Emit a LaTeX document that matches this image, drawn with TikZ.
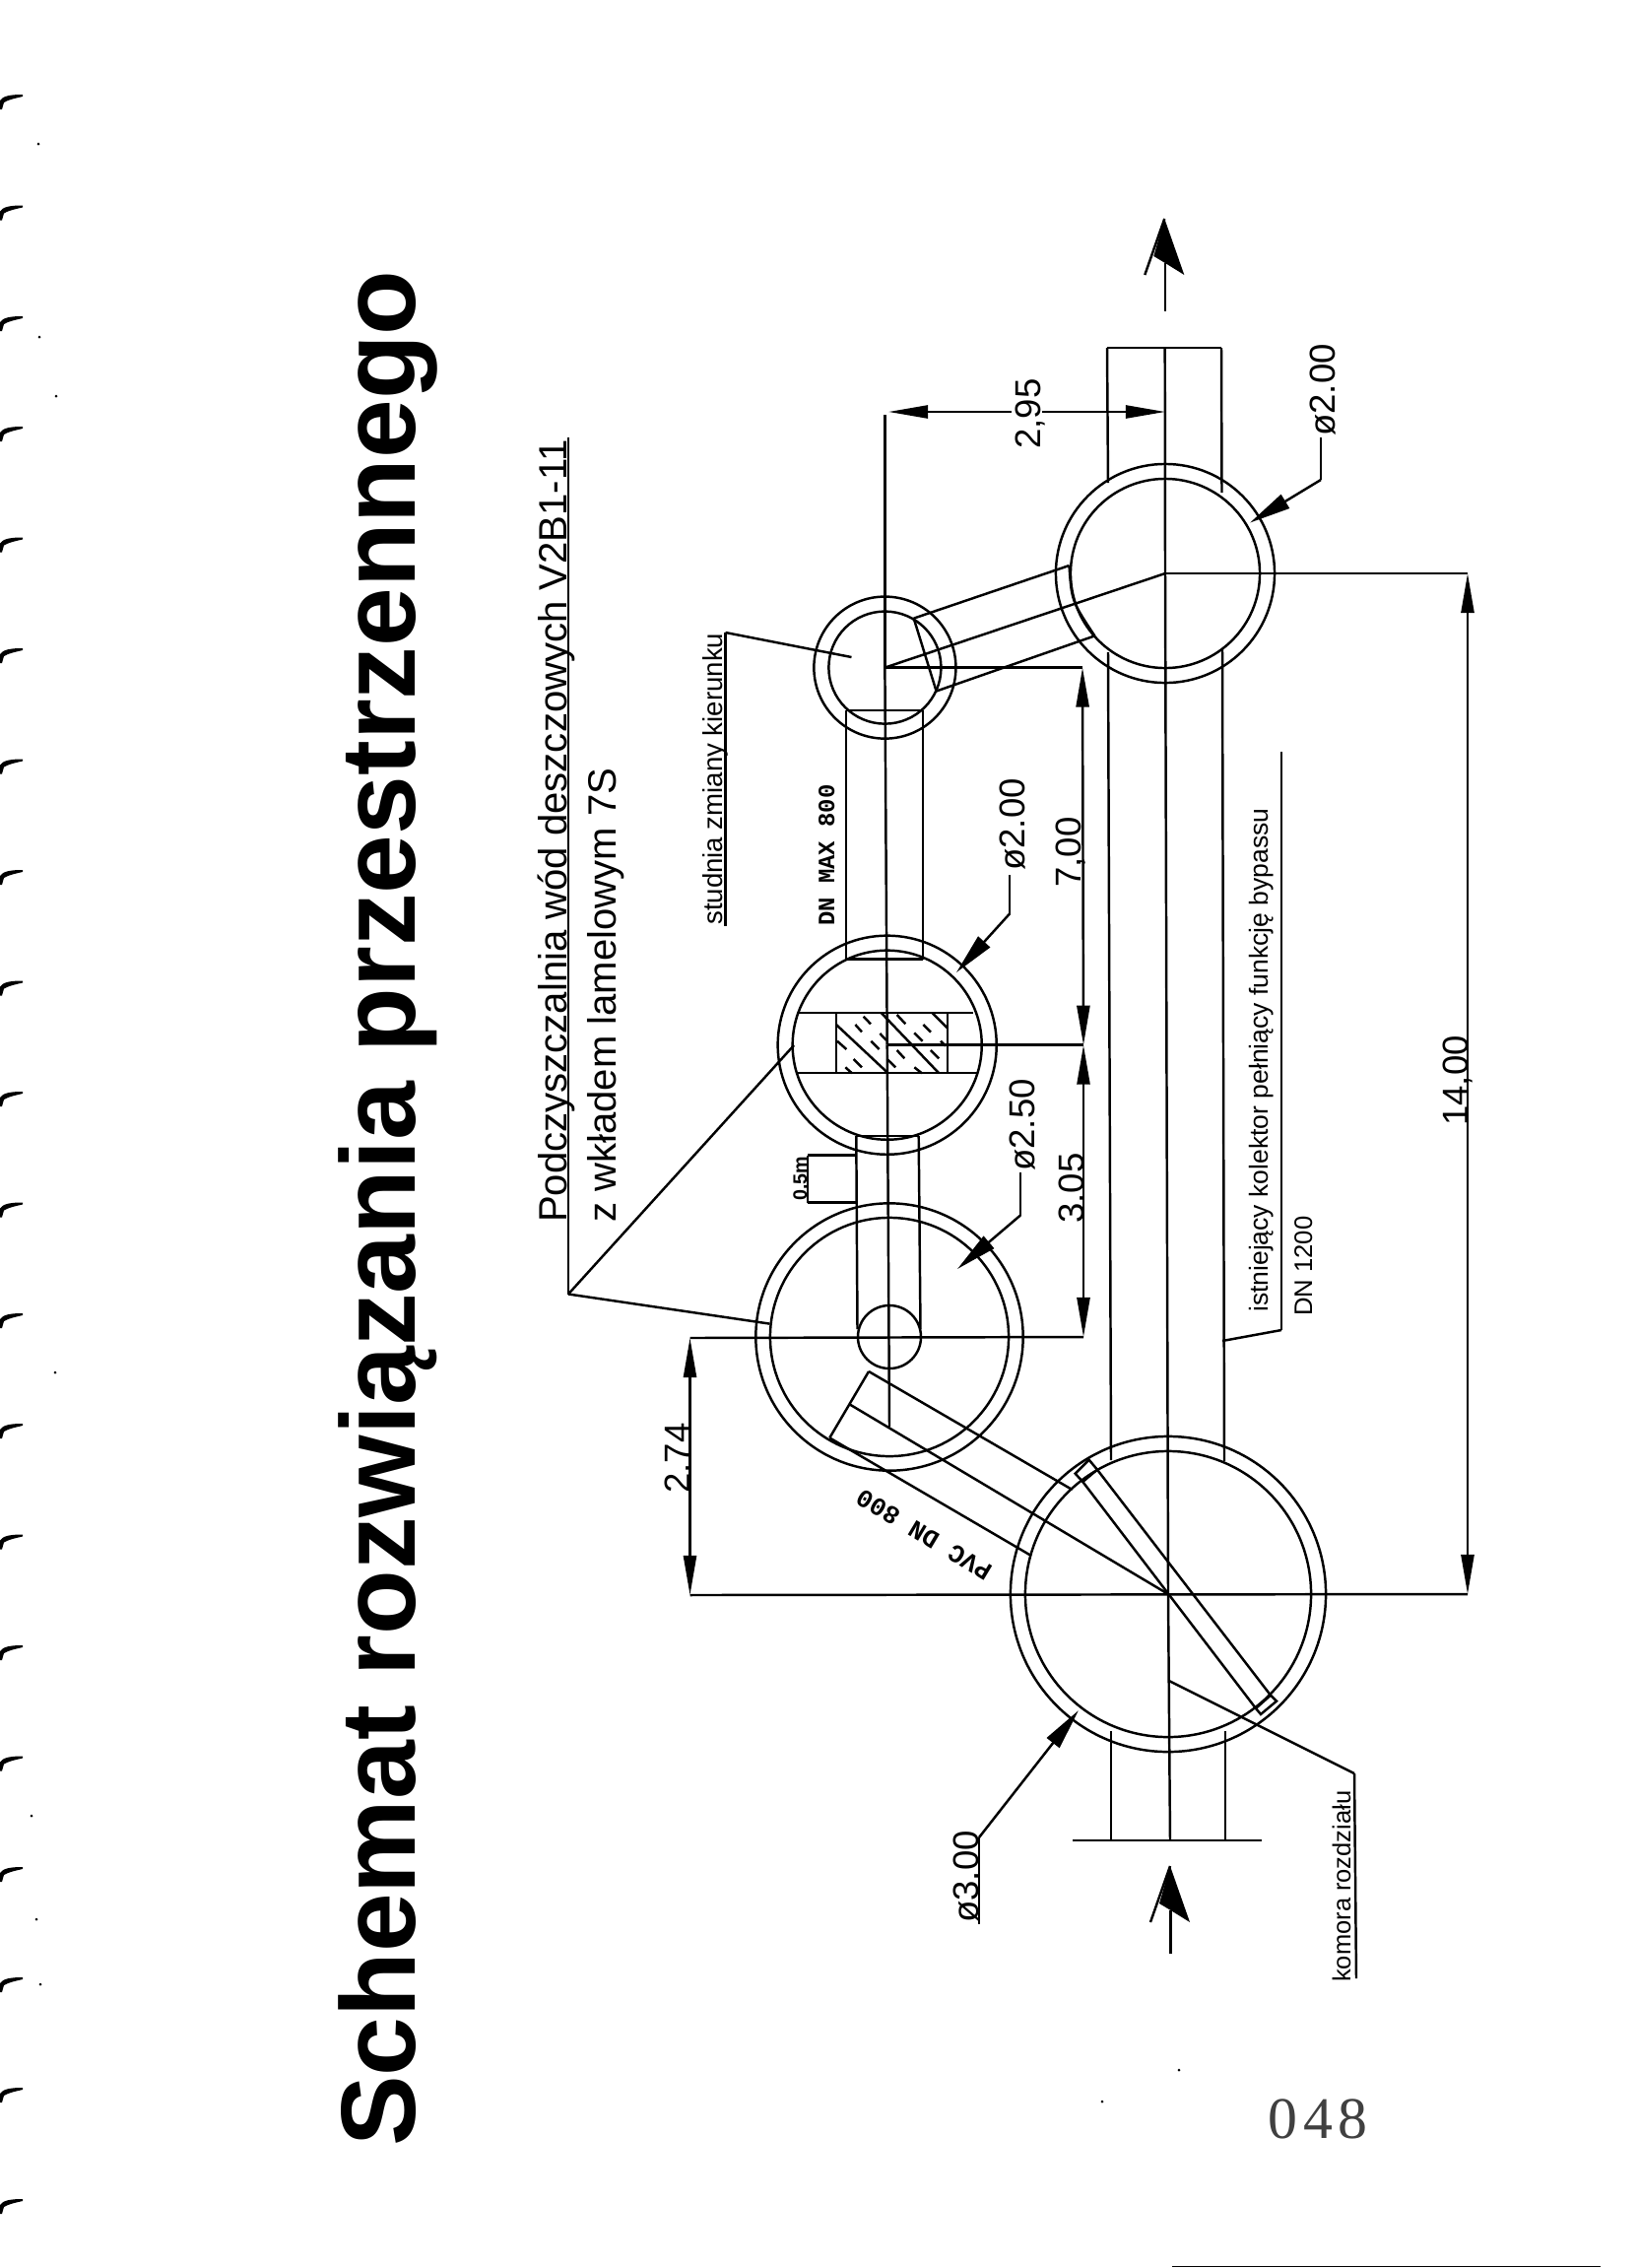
\documentclass[tikz,border=0pt]{standalone}
\usepackage{fontspec}
\setmainfont{Liberation Sans}
\newfontfamily\cadmono{Liberation Mono}
\newfontfamily\stampfont{Liberation Serif}
\usetikzlibrary{arrows.meta}

\tikzset{
	ring/.style={circle,draw,inner sep=0pt,outer sep=0pt},
	lab/.style={rotate=90,anchor=base west,inner sep=0pt},
	dimtxt/.style={lab,font=\fontsize{10.4}{12}\selectfont},
	dimline/.style={{Triangle[length=4mm,width=1.3mm]}-{Triangle[length=4mm,width=1.3mm]}},
	leadarrow/.style={-{Triangle[length=4.2mm,width=1.6mm]}}
}

\begin{document}
\begin{tikzpicture}
		[x=.01cm,y=-.01cm,line width=.7pt]
		\fill[white] (0,0) rectangle (1662,2302);
		\useasboundingbox (0,0) rectangle (1662,2302);
		
		\foreach \name/\x/\y/\d in 
		{k1o/1186/1618/3.2, k1i/1186/1618/2.9, k2o/903/1357/2.712, k2i/903/1357/2.42, 
		k3o/900.7/1060.7/2.22, k3i/900.7/1060.7/1.92, k4o/898.4/677.6/1.44, k4i/898.4/677.6/1.14, 
		k5o/1183/582/2.22, k5i/1183/582/1.92, k6/903/1357/.64}
		\node[ring,minimum size=\d cm] (\name) at (\x,\y) {};
		
		\coordinate (a1) at (1124,353);
		\coordinate (a2) at (1182.7,353);
		\coordinate (a3) at (1240,353);
		\coordinate (a4) at (1125,490);
		\coordinate (a5) at (1240.5,500);
		\coordinate (b1) at (1125,662);
		\coordinate (b2) at (1128,1482);
		\coordinate (b3) at (1241,659);
		\coordinate (b4) at (1243,1483);
		\coordinate (c1) at (1128,1757);
		\coordinate (c2) at (1128,1868);
		\coordinate (c3) at (1244,1757);
		\coordinate (c4) at (1244,1868);
		\coordinate (c5) at (1089,1868);
		\coordinate (c6) at (1281,1868);
		\coordinate (c7) at (1188,1868);
		\coordinate (d1) at (927.7,627.6);
		\coordinate (d2) at (1085.5,574);
		\coordinate (d3) at (950.6,701.5);
		\coordinate (d4) at (1111.4,645.4);
		\coordinate (e1) at (859,721);
		\coordinate (e2) at (937,721);
		\coordinate (e3) at (859,973.5);
		\coordinate (e4) at (937,973.5);
		\coordinate (f1) at (869.3,1153);
		\coordinate (f2) at (932.7,1153);
		\coordinate (f3) at (870.5,1349);
		\coordinate (f4) at (934.5,1349);
		\coordinate (f5) at (903,1448);
		\coordinate (g1) at (810,1028);
		\coordinate (g2) at (988,1028);
		\coordinate (g3) at (809,1089);
		\coordinate (g4) at (993,1089);
		\coordinate (h1) at (849,1028);
		\coordinate (h2) at (849,1089);
		\coordinate (h3) at (962,1028);
		\coordinate (h4) at (962,1089);
		\coordinate (m1) at (882,1392);
		\coordinate (m2) at (1088.6,1512);
		\coordinate (m3) at (842.3,1459.4);
		\coordinate (m4) at (1047,1579);
		\coordinate (m5) at (862.8,1425.5);
		
		\foreach \from/\to in 
		{a1/a3, a1/a4, a3/a5, a2/k5o.center, b1/b2, b3/b4, k5o.center/k1o.center, 
		c1/c2, c3/c4, c5/c6, k1o.center/c7, d1/d2, d3/d4, d1/d3, k4o.center/k5o.center, 
		e1/e2, e3/e4, e1/e3, e2/e4, k4o.center/k3o.center, k3o.center/f5, 
		f1/f2, f1/f3, f2/f4, g1/g2, g3/g4, h1/h2, h3/h4, 
		m1/m2, m3/m4, m1/m3, m5/k1o.center}
		\draw (\from) -- (\to);
		\draw (d2) .. controls (1088,610) .. (d4);
		
		\begin{scope}[shift={(780,980)},scale=.3333]
		\foreach \xa/\ya/\xb/\yb in 
		{207/180/362/325, 345/145/520/328, 500/145/545/190, 290/155/312/178, 265/180/285/202, 
		210/230/238/255, 313/230/338/255, 340/207/360/228, 260/285/285/310, 235/310/255/328, 
		362/285/388/310, 392/150/418/178, 445/205/470/230, 472/180/495/203, 392/258/415/283, 
		495/258/520/283, 445/310/468/328, 525/230/540/245}
		\draw (\xa,\ya) -- (\xb,\yb);
		\end{scope}
		
		\begin{scope}[shift={(1040,1430)},scale=.3333]
		\draw (155,197) -- (197,155) -- (222,185) -- (178,222) -- cycle;
		\draw (705,912) -- (750,872) -- (768,890) -- (720,930) -- cycle;
		\draw (178,222) -- (705,912);
		\draw (222,185) -- (750,872);
		\end{scope}
		
		\foreach \tipx/\tipy/\stem in {1182.3/222/94, 1188/1894/89}
		{
		\begin{scope}[shift={(\tipx,\tipy)}]
		\fill (0,0) -- (20,57) -- (.7,45) -- (-11,38) -- cycle;
		\draw (0,0) -- (-20,57);
		\draw (.7,45) -- (.7,\stem);
		\end{scope}
		}
		
		\coordinate (l1) at (577,444);
		\coordinate (l2) at (577,1313.5);
		\coordinate (l3) at (806,1061);
		\coordinate (l4) at (781.5,1343.6);
		\coordinate (s1) at (736.5,642);
		\coordinate (s2) at (736.5,940);
		\coordinate (s3) at (864.5,667);
		\coordinate (i1) at (1301,763);
		\coordinate (i2) at (1301,1350);
		\coordinate (i3) at (1241,1361);
		\coordinate (r1) at (1187,1706);
		\coordinate (r2) at (1375,1800);
		\coordinate (r3) at (1377,2008);
		\coordinate (w1) at (820,1172.7);
		\coordinate (w2) at (820,1220.7);
		\coordinate (w3) at (869.3,1172.7);
		\coordinate (w4) at (869.3,1220.7);
		\coordinate (x1) at (898.4,421);
		\coordinate (x2) at (1099,677.6);
		\coordinate (x3) at (1100,1060.7);
		\coordinate (x4) at (1100,1357);
		\coordinate (x5) at (1490,582);
		\coordinate (x6) at (1490,1618);
		\coordinate (x7) at (700.5,1358);
		\coordinate (x8) at (700.5,1619);
		
		\foreach \from/\to in 
		{l1/l2, l2/l3, l2/l4, s1/s2, s1/s3, i1/i2, i2/i3, r1/r2, r2/r3, w1/w2, w1/w3, w2/w4, 
		x1/k4o.center, k4o.center/x2, k3o.center/x3, x7/x4, x8/x6, k5o.center/x5}
		\draw (\from) -- (\to);
		
		\draw[dimline] (x2) -- (x3);
		\draw[dimline] (x3) -- (x4);
		\draw[dimline] (x5) -- (x6);
		\draw[dimline] (x7) -- (x8);
		\draw[{Triangle[length=4mm,width=1.3mm]}-] (902,418) -- (1027,418);
		\draw[-{Triangle[length=4mm,width=1.3mm]}] (1058,418) -- (1183,418);
		
		\coordinate (q1) at (1025,888);
		\coordinate (q2) at (1025,927.5);
		\coordinate (q3) at (971,987);
		\coordinate (q4) at (1341,444);
		\coordinate (q5) at (1341,487);
		\coordinate (q6) at (1269,530.6);
		\coordinate (q7) at (1036,1190);
		\coordinate (q8) at (1036,1233.5);
		\coordinate (q9) at (972,1288);
		\coordinate (q10) at (994,1953);
		\coordinate (q11) at (994,1865);
		\coordinate (q12) at (1095,1736);
		\foreach \from/\to in 
		{q1/q2, q4/q5, q7/q8, q10/q11}
		\draw (\from) -- (\to);
		\foreach \from/\to in 
		{q2/q3, q5/q6, q8/q9, q11/q12}
		\draw[leadarrow] (\from) -- (\to);
		
		\node[lab,font=\bfseries\fontsize{30.55}{36}\selectfont] (title) at (421,2180) {Schemat rozwiązania przestrzennego};
		\node[lab,font=\fontsize{11.4}{14}\selectfont] (plant1) at (575,1242) {Podczyszczalnia wód deszczowych V2B1-11};
		\node[lab,font=\fontsize{11.4}{14}\selectfont] (plant2) at (625,1242) {z wkładem lamelowym 7S};
		\node[lab,font=\fontsize{7.85}{9}\selectfont] (well) at (733,940) {studnia zmiany kierunku};
		\node[lab,font=\fontsize{7.54}{9}\selectfont] (bypass) at (1287,1333) {istniejący kolektor pełniący funkcję bypassu};
		\node[lab,font=\fontsize{7.3}{9}\selectfont] (dn1200) at (1332,1337) {DN 1200};
		\node[lab,font=\fontsize{7.25}{9}\selectfont] (chamber) at (1371,2013) {komora rozdziału};
		\node[lab,font=\cadmono\bfseries\fontsize{6.8}{8}\selectfont] (dnmax) at (847,941) {DN MAX 800};
		\node[inner sep=0pt,rotate=149,font=\cadmono\bfseries\fontsize{7.35}{9}\selectfont] (pvc) at (938,1558) {PVC DN 800};
		\node[lab,font=\bfseries\fontsize{5.6}{7}\selectfont] (half) at (819,1220) {0.5m};
		
		\node[dimtxt] (d295) at (1056,457) {2,95};
		\node[dimtxt] (d700) at (1097,902) {7,00};
		\node[dimtxt] (d305) at (1100,1243) {3.05};
		\node[dimtxt] (d1400) at (1490,1144) {14,00};
		\node[dimtxt] (d274) at (700,1517) {2.74};
		\node[dimtxt] (phimid) at (1040,885) {ø2.00};
		\node[dimtxt] (phitop) at (1355,444) {ø2.00};
		\node[dimtxt] (phibig) at (1050,1190) {ø2.50};
		\node[dimtxt] (phimain) at (993,1953) {ø3.00};
		
		\node[anchor=base west,inner sep=0pt,text=black!75,font=\stampfont\fontsize{17}{20}\selectfont] (stamp) at (1286,2170) {0\kern1.7pt4\kern1.7pt8};
		
		\foreach \y in {96,208.5,321,433,545.5,658,770.5,883,995.5,1108,1220.5,1333,1445,1557.5,1670,1782.5,1895,2007,2119,2232}
		\fill (23,\y) .. controls (12,\y) and (3,\y+1) .. (0,\y+6) -- (0,\y+15) -- (2,\y+15) -- (4,\y+8) .. controls (8,\y+5.5) and (14,\y+4) .. (23,\y+2) -- cycle;
		
		\foreach \x/\y in 
		{39/146, 40/342, 57/402, 56/1393, 32/1843, 37/1948, 41/2014, 1119/2133, 1197/2101}
		\fill (\x,\y) circle[radius=1.5];
		
		\draw[line width=.4pt] (1190,2300.5) -- (1625,2300.5);
		\end{tikzpicture}
\end{document}
